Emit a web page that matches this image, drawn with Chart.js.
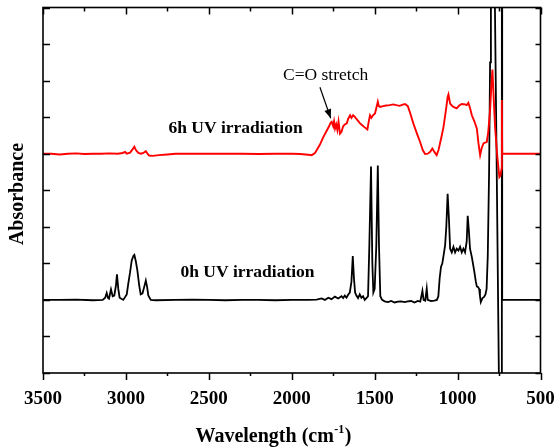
<!DOCTYPE html>
<html>
<head>
<meta charset="utf-8">
<script src="https://cdn.jsdelivr.net/npm/chart.js@4.4.1/dist/chart.umd.min.js"></script>
<style>
  html, body { margin: 0; padding: 0; background: #ffffff; }
  #wrap { width: 557px; height: 448px; }
</style>
</head>
<body>
<div id="wrap"><canvas id="c" width="557" height="448"></canvas></div>
<script>
// ---- data ----
const seriesNames = ['6h UV irradiation', '0h UV irradiation'];
const xTickValues = [3500, 3000, 2500, 2000, 1500, 1000, 500];
const xTitle = ['Wavelength (cm', '-1', ')'];
const yTitle = 'Absorbance';

const wn6h = [3500,3450,3400,3350,3300,3250,3200,3150,3100,3050,3020,3005,2995,2975,2960,2949,2940,2925,2910,2895,2880,2870,2860,2840,2800,2750,2700,2600,2500,2400,2300,2200,2100,2000,1950,1900,1880,1860,1849,1830,1809,1790,1775,1765,1759,1750,1745,1739,1732,1725,1718,1709,1700,1690,1680,1668,1660,1648,1640,1630,1618,1610,1600,1588,1575,1560,1544,1535,1528,1520,1510,1498,1490,1481,1475,1467,1450,1430,1410,1387,1370,1350,1330,1317,1300,1285,1267,1245,1226,1210,1196,1180,1165,1152,1140,1126,1115,1100,1086,1070,1060,1055,1045,1035,1025,1005,990,975,955,945,935,925,914,900,884,874,864,855,844,834,824,815,804,796,790,782,774,760,748,742,734,733,731,700,600,500];
const abs6h = [6.0,6.0,5.98,6.0,6.01,5.99,6.0,6.0,6.01,6.0,6.02,6.05,6.0,6.03,6.12,6.19,6.1,6.02,6.0,6.02,6.07,6.0,5.95,5.94,5.96,5.98,6.0,6.0,6.0,6.0,6.0,5.99,6.0,6.0,5.99,5.97,5.96,6.02,6.1,6.25,6.46,6.62,6.75,6.85,6.87,6.75,6.88,6.69,6.8,6.65,6.88,6.55,6.6,6.75,6.8,6.83,6.95,7.05,6.98,7.05,7.0,6.95,6.9,6.83,6.78,6.72,6.66,6.9,7.05,6.98,7.05,7.1,7.25,7.42,7.3,7.28,7.3,7.32,7.33,7.35,7.33,7.31,7.34,7.36,7.3,7.1,6.83,6.55,6.32,6.1,5.99,6.0,6.05,6.14,6.05,5.96,6.1,6.4,6.7,7.2,7.55,7.62,7.37,7.32,7.28,7.24,7.32,7.36,7.35,7.33,7.39,7.25,7.05,6.9,6.69,6.28,5.96,6.15,6.28,6.3,6.32,6.6,7.19,7.9,8.3,7.5,6.73,5.9,5.36,5.4,5.6,7.47,6.0,6.0,6.0,6.0];

const wn0h = [3500,3400,3300,3200,3140,3125,3116,3108,3102,3090,3080,3070,3060,3054,3046,3038,3016,2995,2986,2975,2965,2955,2949,2940,2931,2920,2911,2900,2890,2880,2872,2865,2850,2820,2700,2600,2500,2400,2300,2200,2100,2000,1900,1850,1820,1800,1780,1760,1740,1720,1700,1690,1680,1670,1660,1650,1640,1632,1625,1618,1610,1600,1590,1580,1570,1560,1550,1540,1532,1522,1514,1508,1500,1490,1481,1474,1466,1455,1440,1420,1400,1380,1360,1340,1320,1300,1280,1260,1240,1225,1212,1205,1195,1186,1180,1160,1140,1125,1116,1108,1100,1092,1086,1075,1068,1060,1052,1045,1035,1025,1015,1005,995,985,975,965,955,945,939,932,925,914,900,890,884,876,870,865,860,850,840,832,825,818,810,804,799,795,785,776,765,750,740,734,733,732,731,700,600,500];
const abs0h = [2.0,2.0,2.01,1.99,2.0,2.06,2.19,2.05,2.03,2.29,2.1,2.12,2.4,2.7,2.3,2.06,2.0,2.15,2.44,2.75,3.08,3.2,3.23,3.05,2.81,2.4,2.15,2.18,2.35,2.53,2.35,2.12,2.0,1.99,2.0,2.01,2.0,1.99,2.0,2.0,1.99,2.0,2.0,2.01,2.04,2.0,2.06,2.02,2.09,2.04,2.1,2.05,2.12,2.06,2.14,2.2,2.5,3.2,2.6,2.2,2.12,2.05,2.15,2.06,2.1,2.0,2.05,2.1,3.5,5.65,3.0,2.2,2.3,3.5,5.68,3.5,2.1,2.0,1.96,1.94,1.97,1.93,1.95,1.96,1.94,1.96,1.97,1.93,1.97,1.95,2.25,2.0,1.98,2.31,2.0,1.97,1.98,2.0,2.1,2.6,2.9,3.0,3.17,3.5,4.0,4.9,4.2,3.4,3.3,3.45,3.3,3.4,3.35,3.45,3.3,3.4,3.3,3.6,4.3,3.9,3.4,3.17,2.8,2.5,2.37,2.35,2.3,2.1,1.94,2.05,2.08,2.15,2.3,3.2,5.5,8.5,11,12,12,10.5,6,-0.5,-2,-2,12,12,2.0,2.0,2.0,2.0];

const toPoints = (xs, ys) => xs.map((x, i) => ({ x: x, y: ys[i] }));

const SERIF = "'Liberation Serif', 'Times New Roman', serif";

// inward/outward tick marks, plot frame, axis titles, text labels and arrow
const decor = {
  id: 'decor',
  afterDraw(chart) {
    const { ctx, chartArea: a } = chart;
    const xs = chart.scales.x, ys = chart.scales.y;
    ctx.save();
    ctx.strokeStyle = '#000';
    ctx.lineWidth = 1.5;
    ctx.beginPath();
    xs.ticks.forEach(t => {
      const px = Math.round(xs.getPixelForValue(t.value)) + 0.5;
      const major = t.value % 500 === 0;
      const inL = major ? 7 : 4;
      const outL = major ? 7 : 3;
      ctx.moveTo(px, a.top); ctx.lineTo(px, a.top + inL);
      ctx.moveTo(px, a.bottom); ctx.lineTo(px, a.bottom + outL);
    });
    ys.ticks.forEach(t => {
      const py = Math.round(ys.getPixelForValue(t.value)) + 0.5;
      ctx.moveTo(a.left, py); ctx.lineTo(a.left + 7, py);
      ctx.moveTo(a.right, py); ctx.lineTo(a.right - 5, py);
    });
    ctx.stroke();
    ctx.lineWidth = 1.6;
    ctx.strokeRect(a.left, a.top, a.right - a.left, a.bottom - a.top);

    ctx.fillStyle = '#000';
    ctx.textBaseline = 'middle';

    // x axis title with superscript
    const big = 'bold 20px ' + SERIF, small = 'bold 12px ' + SERIF;
    ctx.font = big; const w1 = ctx.measureText(xTitle[0]).width; const w3 = ctx.measureText(xTitle[2]).width;
    ctx.font = small; const w2 = ctx.measureText(xTitle[1]).width;
    const total = w1 + w2 + w3 + 1;
    const tx = 273.5 - total / 2, ty = 437;
    ctx.textAlign = 'left';
    ctx.font = big; ctx.fillText(xTitle[0], tx, ty);
    ctx.font = small; ctx.fillText(xTitle[1], tx + w1 + 0.5, ty - 7);
    ctx.font = big; ctx.fillText(xTitle[2], tx + w1 + w2 + 1, ty);

    // y axis title
    ctx.save();
    ctx.translate(18, 194);
    ctx.rotate(-Math.PI / 2);
    ctx.textAlign = 'center';
    ctx.font = big;
    ctx.fillText(yTitle, 0, 0);
    ctx.restore();

    const P = (x, y) => [xs.getPixelForValue(x), ys.getPixelForValue(y)];
    ctx.textAlign = 'center';
    ctx.font = 'bold 17.5px ' + SERIF;
    let p = P(2339, 6.70); ctx.fillText(seriesNames[0], p[0], p[1]);
    p = P(2267, 2.75); ctx.fillText(seriesNames[1], p[0], p[1]);
    ctx.font = '17.5px ' + SERIF;
    p = P(1796, 8.15); ctx.fillText('C=O stretch', p[0], p[1]);

    // arrow
    const s = P(1830, 7.82), e = P(1765, 6.97);
    ctx.lineWidth = 1.2;
    ctx.beginPath(); ctx.moveTo(s[0], s[1]); ctx.lineTo(e[0], e[1]); ctx.stroke();
    const ang = Math.atan2(e[1] - s[1], e[0] - s[0]);
    const L = 9, W = 3.5;
    ctx.beginPath();
    ctx.moveTo(e[0], e[1]);
    ctx.lineTo(e[0] - L * Math.cos(ang) + W * Math.sin(ang), e[1] - L * Math.sin(ang) - W * Math.cos(ang));
    ctx.lineTo(e[0] - L * Math.cos(ang) - W * Math.sin(ang), e[1] - L * Math.sin(ang) + W * Math.cos(ang));
    ctx.closePath(); ctx.fill();
    ctx.restore();
  }
};

new Chart(document.getElementById('c'), {
  type: 'line',
  data: {
    datasets: [
      { label: seriesNames[0], data: toPoints(wn6h, abs6h), borderColor: '#ff0000', borderWidth: 1.9, pointRadius: 0, tension: 0, fill: false },
      { label: seriesNames[1], data: toPoints(wn0h, abs0h), borderColor: '#000000', borderWidth: 1.8, pointRadius: 0, tension: 0, fill: false }
    ]
  },
  options: {
    responsive: false,
    animation: false,
    layout: { padding: { left: 43, top: 7.5, right: 16.5, bottom: 22.2 } },
    plugins: { legend: { display: false }, tooltip: { enabled: false } },
    scales: {
      x: {
        type: 'linear', position: 'bottom', reverse: true, min: 500, max: 3500,
        grid: { display: false, drawTicks: false },
        border: { display: false },
        afterFit: s => { s.paddingLeft = 0; s.paddingRight = 0; },
        ticks: {
          stepSize: 250, autoSkip: false, maxRotation: 0, padding: 15,
          color: '#000', font: { family: SERIF, size: 19, weight: 'bold' },
          callback: v => (xTickValues.includes(v) ? String(v) : '')
        },
        title: { display: false }
      },
      y: {
        type: 'linear', min: 0, max: 10, display: true,
        grid: { display: false, drawTicks: false },
        border: { display: false },
        ticks: { display: false, stepSize: 1 },
        title: { display: false }
      }
    }
  },
  plugins: [decor]
});
</script>
</body>
</html>
